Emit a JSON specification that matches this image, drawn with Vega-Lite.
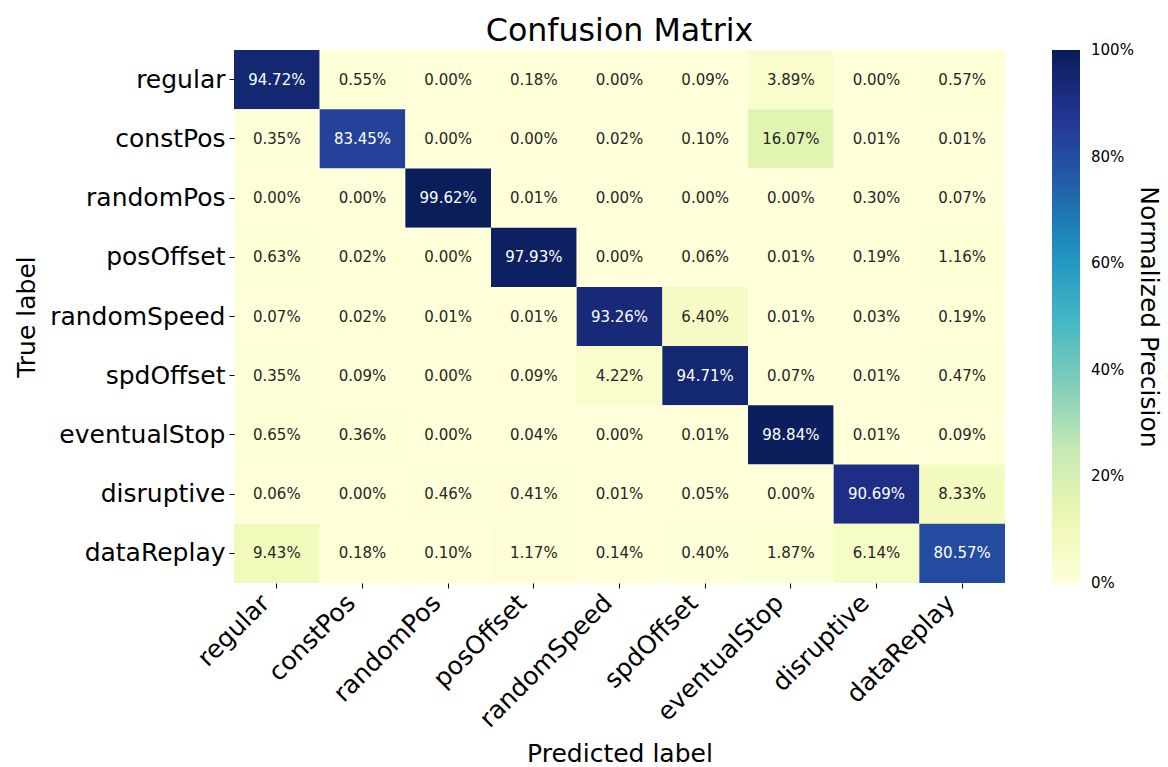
{
  "$schema": "https://vega.github.io/schema/vega-lite/v6.json",
  "autosize": "none",
  "width": 771,
  "height": 533,
  "padding": {"left": 234, "top": 50, "right": 163, "bottom": 184},
  "background": "white",
  "config": {
    "font": "DejaVu Sans",
    "view": {"stroke": null},
    "axis": {"domain": false, "grid": false, "tickColor": "#000000", "tickSize": 5, "tickWidth": 1, "labelColor": "#000000", "titleColor": "#000000", "titleFontWeight": "normal", "labelFontSize": 25, "titleFontSize": 25}
  },
  "title": {"text": "Confusion Matrix", "fontSize": 31.7, "fontWeight": "normal", "color": "#000000", "offset": 2, "anchor": "middle", "frame": "group"},
  "data": {
    "values": [
      {"t": "regular", "p": "regular", "v": 0.9472}, {"t": "regular", "p": "constPos", "v": 0.0055}, {"t": "regular", "p": "randomPos", "v": 0.0}, {"t": "regular", "p": "posOffset", "v": 0.0018}, {"t": "regular", "p": "randomSpeed", "v": 0.0}, {"t": "regular", "p": "spdOffset", "v": 0.0009}, {"t": "regular", "p": "eventualStop", "v": 0.0389}, {"t": "regular", "p": "disruptive", "v": 0.0}, {"t": "regular", "p": "dataReplay", "v": 0.0057},
      {"t": "constPos", "p": "regular", "v": 0.0035}, {"t": "constPos", "p": "constPos", "v": 0.8345}, {"t": "constPos", "p": "randomPos", "v": 0.0}, {"t": "constPos", "p": "posOffset", "v": 0.0}, {"t": "constPos", "p": "randomSpeed", "v": 0.0002}, {"t": "constPos", "p": "spdOffset", "v": 0.001}, {"t": "constPos", "p": "eventualStop", "v": 0.1607}, {"t": "constPos", "p": "disruptive", "v": 0.0001}, {"t": "constPos", "p": "dataReplay", "v": 0.0001},
      {"t": "randomPos", "p": "regular", "v": 0.0}, {"t": "randomPos", "p": "constPos", "v": 0.0}, {"t": "randomPos", "p": "randomPos", "v": 0.9962}, {"t": "randomPos", "p": "posOffset", "v": 0.0001}, {"t": "randomPos", "p": "randomSpeed", "v": 0.0}, {"t": "randomPos", "p": "spdOffset", "v": 0.0}, {"t": "randomPos", "p": "eventualStop", "v": 0.0}, {"t": "randomPos", "p": "disruptive", "v": 0.003}, {"t": "randomPos", "p": "dataReplay", "v": 0.0007},
      {"t": "posOffset", "p": "regular", "v": 0.0063}, {"t": "posOffset", "p": "constPos", "v": 0.0002}, {"t": "posOffset", "p": "randomPos", "v": 0.0}, {"t": "posOffset", "p": "posOffset", "v": 0.9793}, {"t": "posOffset", "p": "randomSpeed", "v": 0.0}, {"t": "posOffset", "p": "spdOffset", "v": 0.0006}, {"t": "posOffset", "p": "eventualStop", "v": 0.0001}, {"t": "posOffset", "p": "disruptive", "v": 0.0019}, {"t": "posOffset", "p": "dataReplay", "v": 0.0116},
      {"t": "randomSpeed", "p": "regular", "v": 0.0007}, {"t": "randomSpeed", "p": "constPos", "v": 0.0002}, {"t": "randomSpeed", "p": "randomPos", "v": 0.0001}, {"t": "randomSpeed", "p": "posOffset", "v": 0.0001}, {"t": "randomSpeed", "p": "randomSpeed", "v": 0.9326}, {"t": "randomSpeed", "p": "spdOffset", "v": 0.064}, {"t": "randomSpeed", "p": "eventualStop", "v": 0.0001}, {"t": "randomSpeed", "p": "disruptive", "v": 0.0003}, {"t": "randomSpeed", "p": "dataReplay", "v": 0.0019},
      {"t": "spdOffset", "p": "regular", "v": 0.0035}, {"t": "spdOffset", "p": "constPos", "v": 0.0009}, {"t": "spdOffset", "p": "randomPos", "v": 0.0}, {"t": "spdOffset", "p": "posOffset", "v": 0.0009}, {"t": "spdOffset", "p": "randomSpeed", "v": 0.0422}, {"t": "spdOffset", "p": "spdOffset", "v": 0.9471}, {"t": "spdOffset", "p": "eventualStop", "v": 0.0007}, {"t": "spdOffset", "p": "disruptive", "v": 0.0001}, {"t": "spdOffset", "p": "dataReplay", "v": 0.0047},
      {"t": "eventualStop", "p": "regular", "v": 0.0065}, {"t": "eventualStop", "p": "constPos", "v": 0.0036}, {"t": "eventualStop", "p": "randomPos", "v": 0.0}, {"t": "eventualStop", "p": "posOffset", "v": 0.0004}, {"t": "eventualStop", "p": "randomSpeed", "v": 0.0}, {"t": "eventualStop", "p": "spdOffset", "v": 0.0001}, {"t": "eventualStop", "p": "eventualStop", "v": 0.9884}, {"t": "eventualStop", "p": "disruptive", "v": 0.0001}, {"t": "eventualStop", "p": "dataReplay", "v": 0.0009},
      {"t": "disruptive", "p": "regular", "v": 0.0006}, {"t": "disruptive", "p": "constPos", "v": 0.0}, {"t": "disruptive", "p": "randomPos", "v": 0.0046}, {"t": "disruptive", "p": "posOffset", "v": 0.0041}, {"t": "disruptive", "p": "randomSpeed", "v": 0.0001}, {"t": "disruptive", "p": "spdOffset", "v": 0.0005}, {"t": "disruptive", "p": "eventualStop", "v": 0.0}, {"t": "disruptive", "p": "disruptive", "v": 0.9069}, {"t": "disruptive", "p": "dataReplay", "v": 0.0833},
      {"t": "dataReplay", "p": "regular", "v": 0.0943}, {"t": "dataReplay", "p": "constPos", "v": 0.0018}, {"t": "dataReplay", "p": "randomPos", "v": 0.001}, {"t": "dataReplay", "p": "posOffset", "v": 0.0117}, {"t": "dataReplay", "p": "randomSpeed", "v": 0.0014}, {"t": "dataReplay", "p": "spdOffset", "v": 0.004}, {"t": "dataReplay", "p": "eventualStop", "v": 0.0187}, {"t": "dataReplay", "p": "disruptive", "v": 0.0614}, {"t": "dataReplay", "p": "dataReplay", "v": 0.8057}
    ]
  },
  "encoding": {
    "x": {"field": "p", "type": "nominal", "sort": ["regular", "constPos", "randomPos", "posOffset", "randomSpeed", "spdOffset", "eventualStop", "disruptive", "dataReplay"], "title": "Predicted label",
      "axis": {"orient": "bottom", "labelAngle": -45, "labelAlign": "right", "labelBaseline": "top", "labelPadding": 2, "labelOffset": -20, "titlePadding": 10}},
    "y": {"field": "t", "type": "nominal", "sort": ["regular", "constPos", "randomPos", "posOffset", "randomSpeed", "spdOffset", "eventualStop", "disruptive", "dataReplay"], "title": "True label",
      "axis": {"labelPadding": 4, "titlePadding": 10}}
  },
  "layer": [
    {
      "mark": {"type": "rect"},
      "encoding": {
        "color": {"field": "v", "type": "quantitative",
          "scale": {"domain": [0, 0.125, 0.25, 0.375, 0.5, 0.625, 0.75, 0.875, 1], "range": ["#ffffd9", "#edf8b1", "#c7e9b4", "#7fcdbb", "#41b6c4", "#1d91c0", "#225ea8", "#253494", "#081d58"], "interpolate": "rgb"},
          "legend": {"title": "Normalized Precision", "orient": "right", "offset": 47, "padding": 0, "direction": "vertical", "gradientLength": 533, "gradientThickness": 28, "values": [0, 0.2, 0.4, 0.6, 0.8, 1], "format": ".0%", "labelFontSize": 15, "labelColor": "#000000", "labelOffset": 11, "labelOverlap": false, "titleOrient": "right", "titleFontSize": 25, "titleFontWeight": "normal", "titleColor": "#000000", "titleAnchor": "middle", "titlePadding": 2, "titleLimit": 800,
            "encode": {"labels": {"update": {"baseline": {"value": "middle"}}}}}}
      }
    },
    {
      "mark": {"type": "text", "fontSize": 15},
      "encoding": {
        "text": {"field": "v", "type": "quantitative", "format": ".2%"},
        "color": {"condition": {"test": "datum.v > 0.5", "value": "#ffffff"}, "value": "#262626"}
      }
    }
  ]
}
